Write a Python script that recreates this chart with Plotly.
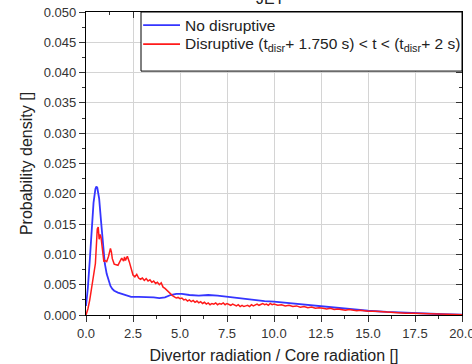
import plotly.graph_objects as go

blue_x = [0, 0.1, 0.2, 0.3, 0.4, 0.5, 0.55, 0.6, 0.7, 0.8, 0.9, 1.0, 1.1, 1.2, 1.3, 1.4, 1.5, 1.7, 1.9,
          2.1, 2.4, 2.8, 3.2, 3.6, 3.9, 4.2, 4.5, 4.8, 5.1, 5.5, 6.0, 6.5, 7.0, 7.5, 8.0, 8.5, 9.0, 9.5,
          10, 11, 12, 13, 14, 15, 16, 17, 18, 19, 20]
blue_y = [0.0015, 0.0045, 0.009, 0.014, 0.0185, 0.0208, 0.0212, 0.021, 0.0192, 0.0155, 0.0115, 0.0085,
          0.0068, 0.0056, 0.0048, 0.0043, 0.0040, 0.0037, 0.0035, 0.0032, 0.0030, 0.0030, 0.0030, 0.0029,
          0.0028, 0.0029, 0.0033, 0.0035, 0.0035, 0.0033, 0.0032, 0.0033, 0.0032, 0.0030, 0.0028, 0.0026,
          0.0024, 0.0023, 0.0022, 0.0019, 0.0015, 0.0012, 0.0009, 0.0007, 0.0005, 0.00035, 0.00022,
          0.00012, 0.00005]

red_x = [0.0, 0.1, 0.2, 0.3, 0.4, 0.5, 0.6, 0.65, 0.7, 0.75, 0.8, 0.85, 0.9, 0.95, 1.0, 1.1, 1.2, 1.3,
         1.35, 1.4, 1.5, 1.6, 1.7, 1.8, 1.9, 2.0, 2.05, 2.1, 2.2, 2.3, 2.4, 2.5, 2.6, 2.7, 2.8, 2.9, 3.0,
         3.1, 3.2, 3.3, 3.4, 3.5, 3.6, 3.7, 3.8, 3.9, 4.0, 4.1, 4.2, 4.3, 4.4, 4.5, 4.6, 4.7, 4.8, 4.9,
         5.0, 5.1, 5.2, 5.3, 5.4, 5.5, 5.6, 5.7, 5.8, 5.9, 6.0, 6.1, 6.2, 6.3, 6.4, 6.5, 6.6, 6.7, 6.8,
         6.9, 7.0, 7.1, 7.2, 7.3, 7.4, 7.5, 7.6, 7.7, 7.8, 7.9, 8.0, 8.1, 8.2, 8.3, 8.4, 8.5, 8.6, 8.7,
         8.8, 8.9, 9.0, 9.1, 9.2, 9.3, 9.4, 9.5, 9.6, 9.7, 9.8, 9.9, 10.0, 10.2, 10.4, 10.6, 10.8, 11.0,
         11.2, 11.4, 11.6, 11.8, 12.0, 12.2, 12.4, 12.6, 12.8, 13.0, 13.2, 13.4, 13.6, 13.8, 14.0, 14.2,
         14.4, 14.6, 14.8, 15.0, 15.4, 15.8, 16.2, 16.6, 17.0, 17.4, 17.8, 18.2, 18.6, 19.0, 19.4, 19.8,
         20.0]
red_y = [0.0000, 0.0010, 0.0025, 0.0048, 0.0062, 0.0085, 0.0142, 0.0145, 0.0125, 0.0133, 0.0128, 0.0112,
         0.0100, 0.0088, 0.0090, 0.0088, 0.0097, 0.0110, 0.0104, 0.0093, 0.0084, 0.0083, 0.0082, 0.0088,
         0.0094, 0.0089, 0.0096, 0.0090, 0.0097, 0.0088, 0.0078, 0.0066, 0.0063, 0.0067, 0.0061, 0.0059,
         0.0061, 0.0057, 0.0060, 0.0056, 0.0058, 0.0054, 0.0056, 0.0052, 0.0054, 0.0050, 0.0053, 0.0046,
         0.0044, 0.0041, 0.0037, 0.0035, 0.0032, 0.0030, 0.0028, 0.0029, 0.0027,
         0.0028, 0.0025, 0.0026, 0.0023, 0.0025, 0.0022, 0.0024, 0.0021, 0.0023, 0.0020, 0.0022, 0.0019,
         0.0021, 0.0018, 0.0020, 0.0017, 0.0019, 0.0018, 0.0020, 0.0017, 0.0019, 0.0018, 0.0020, 0.0017,
         0.0019, 0.0018, 0.0016, 0.0018, 0.0017, 0.0015, 0.0017, 0.0014, 0.0016, 0.0014, 0.0015, 0.0016,
         0.0014, 0.0017, 0.0015, 0.0016, 0.0018, 0.0016, 0.0017, 0.0019, 0.0017, 0.0018, 0.0016, 0.0019,
         0.0017, 0.0018, 0.0016, 0.0017, 0.0015, 0.0016, 0.0014, 0.0015, 0.0013, 0.0014, 0.0012, 0.0013,
         0.0011, 0.0012, 0.0011, 0.0010, 0.0011, 0.0009, 0.0010, 0.0009, 0.0008, 0.0009, 0.0008, 0.0007,
         0.0008, 0.0007, 0.0006, 0.0006, 0.0005, 0.0004, 0.0004, 0.0003, 0.0003, 0.00025, 0.0002, 0.00015,
         0.0001, 0.00008, 0.00005, 0.00005]

x_ticks = [0, 2.5, 5, 7.5, 10, 12.5, 15, 17.5, 20]
x_range = [0, 20]
y_range = [0, 0.05]

blue_name = "No disruptive"
red_name = "Disruptive (t<sub>disr</sub>+ 1.750 s) &lt; t &lt; (t<sub>disr</sub>+ 2 s)"
title_text = "JET"
x_title = "Divertor radiation / Core radiation []"
y_title = "Probability density []"

blue_color = "#3535ff"
red_color = "#ff1a1a"
font = "Liberation Sans, Arial, sans-serif"

fig = go.Figure()
fig.add_trace(go.Scatter(x=blue_x, y=blue_y, mode="lines", name=blue_name,
                         line=dict(color=blue_color, width=1.8)))
fig.add_trace(go.Scatter(x=red_x, y=red_y, mode="lines", name=red_name,
                         line=dict(color=red_color, width=1.5)))
# empty trace so the mirrored (top/right) axes with inside ticks are drawn
fig.add_trace(go.Scatter(x=[None], y=[None], xaxis="x2", yaxis="y2", showlegend=False,
                         hoverinfo="skip"))

axis_common = dict(showline=True, linecolor="black", linewidth=1.2, gridcolor="#d4d4d4",
                   gridwidth=1, zeroline=False, ticks="outside", ticklen=6, tickcolor="#333",
                   automargin=False,
                   tickfont=dict(family=font, size=13, color="#333"))
mirror_common = dict(showline=False, showgrid=False, zeroline=False, showticklabels=False,
                     ticks="inside", ticklen=6, tickcolor="#333", automargin=False)

# legend drawn as a framed box in the upper right (paper coordinates)
lx0, lx1, ly0, ly1 = 0.1463, 1.0, 0.805, 1.0
row_y = [0.957, 0.894]
line_x = [0.152, 0.25]
text_x = 0.258
shapes = [dict(type="rect", xref="paper", yref="paper", x0=lx0, x1=lx1, y0=ly0, y1=ly1,
               fillcolor="white", line=dict(color="black", width=1), layer="above")]
annotations = [dict(text=title_text, xref="paper", yref="paper", x=0.49, y=1,
                    xanchor="center", yanchor="bottom", yshift=3, showarrow=False,
                    font=dict(family=font, size=16, color="#222"))]
for yy, col, name in zip(row_y, [blue_color, red_color], [blue_name, red_name]):
    shapes.append(dict(type="line", xref="paper", yref="paper", x0=line_x[0], x1=line_x[1],
                       y0=yy, y1=yy, line=dict(color=col, width=1.8), layer="above"))
    annotations.append(dict(text=name, xref="paper", yref="paper", x=text_x, y=yy,
                            xanchor="left", yanchor="middle", showarrow=False,
                            font=dict(family=font, size=15.5, color="#222")))

fig.update_layout(
    width=472, height=364,
    margin=dict(l=86, r=10, t=12, b=49, autoexpand=False),
    paper_bgcolor="white", plot_bgcolor="white",
    font=dict(family=font, color="#333"),
    showlegend=False,
    shapes=shapes,
    annotations=annotations,
    xaxis=dict(range=x_range, tickvals=x_ticks,
               tickformat=".1f", mirror=True, ticklabeloverflow="allow",
               minor=dict(dtick=1.25, ticks="outside", ticklen=3, tickcolor="#333", showgrid=False),
               title=dict(text=x_title, font=dict(family=font, size=16, color="#222"), standoff=14),
               **axis_common),
    yaxis=dict(range=y_range, dtick=0.005, tickformat=".3f", mirror=True,
               minor=dict(dtick=0.0025, ticks="outside", ticklen=3, tickcolor="#333", showgrid=False),
               title=dict(text=y_title, font=dict(family=font, size=16, color="#222"), standoff=7),
               **axis_common),
    xaxis2=dict(range=x_range, tickvals=x_ticks, overlaying="x", side="top", anchor="y2",
                minor=dict(dtick=1.25, ticks="inside", ticklen=3, tickcolor="#333", showgrid=False),
                **mirror_common),
    yaxis2=dict(range=y_range, dtick=0.005, overlaying="y", side="right", anchor="x2",
                minor=dict(dtick=0.0025, ticks="inside", ticklen=3, tickcolor="#333", showgrid=False),
                **mirror_common),
)

fig.write_html("out.html")
